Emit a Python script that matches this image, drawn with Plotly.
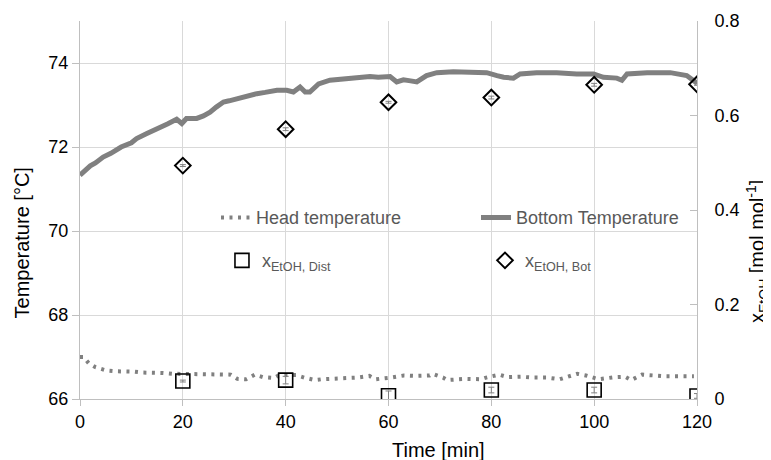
import plotly.graph_objects as go

# ---- data ----
bottom_t = [0, 1, 2, 3, 4.5, 6, 8, 10, 11, 13, 15, 17, 18.8, 19.8, 20.7, 22.7, 24, 25.3, 26.5,
            27.9, 29, 30.5, 32, 34.4, 36, 38.3, 40.2, 41.5, 42.8, 43.8, 44.7, 46.4, 48.6, 51,
            53.2, 56.4, 58, 60.3, 61.6, 62.9, 64, 65.5, 67.4, 69.4, 72.6, 75.9, 79.1, 81.1,
            82.4, 84.3, 85.6, 88.8, 92.7, 96.6, 99.9, 101.8, 104.4, 105.4, 106.4, 110.3,
            114.8, 118, 119.6, 120]
bottom_T = [71.33, 71.45, 71.55, 71.62, 71.76, 71.85, 72.0, 72.1, 72.2, 72.32, 72.45, 72.55,
            72.66, 72.56, 72.68, 72.68, 72.74, 72.83, 72.95, 73.07, 73.1, 73.15, 73.2, 73.27,
            73.3, 73.35, 73.35, 73.31, 73.43, 73.31, 73.31, 73.5, 73.59, 73.62, 73.65, 73.68,
            73.66, 73.68, 73.55, 73.6, 73.58, 73.55, 73.7, 73.77, 73.79, 73.79, 73.77, 73.7,
            73.66, 73.64, 73.74, 73.77, 73.77, 73.74, 73.74, 73.66, 73.64, 73.59, 73.74,
            73.77, 73.77, 73.70, 73.55, 73.52]

head_t = [0, 0.7, 1.7, 3, 4, 5.1, 7, 9, 10.6, 12, 14, 16, 18, 20, 22, 24, 26, 28, 29.3, 30.6,
          32.3, 34, 35.6, 37.7, 38.6, 40, 42, 43.6, 45.7, 47, 50.4, 52, 54, 56.3, 57.5, 60.5,
          63, 65.5, 68, 68.5, 70.6, 71.4, 73, 75, 78, 79, 81.5, 83.2, 85.7, 88, 90.8, 93.3,
          96.7, 98.4, 100.9, 102.6, 104, 106, 107.2, 109.3, 111.8, 114, 116, 118, 119.4]
head_T = [67.0, 67.0, 66.85, 66.76, 66.72, 66.68, 66.66, 66.66, 66.65, 66.63, 66.63, 66.62,
          66.6, 66.6, 66.6, 66.6, 66.6, 66.59, 66.58, 66.48, 66.47, 66.58, 66.52, 66.5, 66.56,
          66.57, 66.57, 66.51, 66.45, 66.47, 66.48, 66.5, 66.51, 66.55, 66.47, 66.51, 66.56,
          66.55, 66.56, 66.6, 66.51, 66.45, 66.47, 66.48, 66.47, 66.51, 66.58, 66.52, 66.53,
          66.51, 66.51, 66.47, 66.6, 66.56, 66.47, 66.5, 66.52, 66.53, 66.45, 66.58, 66.55,
          66.54, 66.54, 66.55, 66.54]

sample_t = [20, 40, 60, 80, 100, 120]
x_dist = [0.038, 0.040, 0.007, 0.019, 0.019, 0.0065]
x_dist_err = [0.002, 0.008, 0.010, 0.006, 0.006, 0.005]
x_bot = [0.494, 0.571, 0.628, 0.638, 0.665, 0.666]
x_bot_err = [0.002, 0.003, 0.002, 0.003, 0.003, 0.002]

x_title = "Time [min]"
y_title = "Temperature [°C]"
y2_title = "x<sub>EtOH</sub> [mol mol<sup>-1</sup>]"

FONT = "Arial, Liberation Sans, sans-serif"
GRID = "#d9d9d9"
AXIS = "#bfbfbf"

fig = go.Figure()
fig.add_trace(go.Scatter(x=head_t, y=head_T, mode="lines", name="Head temperature",
                         line=dict(color="#808080", width=4, dash="3px,5.5px"),
                         legend="legend"))
fig.add_trace(go.Scatter(x=bottom_t, y=bottom_T, mode="lines", name="Bottom Temperature",
                         line=dict(color="#808080", width=5),
                         legend="legend2"))
fig.add_trace(go.Scatter(x=sample_t, y=x_dist, mode="markers", yaxis="y2",
                         name="x<sub>EtOH, Dist</sub>",
                         marker=dict(symbol="square-open", size=14, color="#000000",
                                     line=dict(width=1.6, color="#000000")),
                         error_y=dict(type="data", array=x_dist_err, color="#808080",
                                      thickness=1, width=3),
                         legend="legend3"))
fig.add_trace(go.Scatter(x=sample_t, y=x_bot, mode="markers", yaxis="y2",
                         name="x<sub>EtOH, Bot</sub>",
                         marker=dict(symbol="diamond-open", size=12, color="#000000",
                                     line=dict(width=2, color="#000000")),
                         error_y=dict(type="data", array=x_bot_err, color="#808080",
                                      thickness=1, width=3),
                         legend="legend4"))

legend_common = dict(orientation="v", xanchor="left", yanchor="middle",
                     bgcolor="rgba(0,0,0,0)",
                     font=dict(family=FONT, size=18, color="#595959"))

title_font = dict(family=FONT, size=20, color="#000000")

# page body has an 8px margin, so the figure is 8px smaller on each side
fig.update_layout(
    width=763, height=452,
    margin=dict(l=72, r=74, t=13, b=61),
    showlegend=True,
    paper_bgcolor="white", plot_bgcolor="white",
    font=dict(family=FONT, size=18, color="#000000"),
    legend=dict(x=0.2204, y=0.4796, **legend_common),
    legend2=dict(x=0.6418, y=0.4796, **legend_common),
    legend3=dict(x=0.2301, y=0.366, **legend_common),
    legend4=dict(x=0.6564, y=0.366, **legend_common),
    xaxis=dict(range=[0, 120], dtick=20, tick0=0, showgrid=True, gridcolor=GRID,
               showline=True, linecolor=AXIS, linewidth=1, ticks="outside", ticklen=6,
               tickcolor=AXIS, zeroline=False, automargin=False,
               tickfont=dict(size=18, color="#000000")),
    yaxis=dict(range=[66, 75], dtick=2, tick0=66, showgrid=True, gridcolor=GRID,
               showline=True, linecolor=AXIS, linewidth=1, ticks="outside", ticklen=7,
               tickcolor=AXIS, zeroline=False, automargin=False,
               tickfont=dict(size=18, color="#000000")),
    yaxis2=dict(range=[0, 0.8], dtick=0.2, tick0=0, overlaying="y", side="right",
                showgrid=False, showline=True, linecolor=AXIS, linewidth=1,
                ticks="inside", ticklen=7, tickcolor=AXIS, zeroline=False,
                automargin=False, ticklabelstandoff=13,
                tickfont=dict(size=18, color="#000000")),
    annotations=[
        dict(text=x_title, xref="paper", yref="paper", x=0.5818, y=-0.1349,
             xanchor="center", yanchor="middle", showarrow=False, font=title_font),
        dict(text=y_title, xref="paper", yref="paper", x=-0.0932, y=0.4127,
             xanchor="center", yanchor="middle", textangle=-90, showarrow=False,
             font=title_font),
        dict(text=y2_title, xref="paper", yref="paper", x=1.0972, y=0.3915,
             xanchor="center", yanchor="middle", textangle=-90, showarrow=False,
             font=title_font),
    ],
)

fig.write_html("out.html")
